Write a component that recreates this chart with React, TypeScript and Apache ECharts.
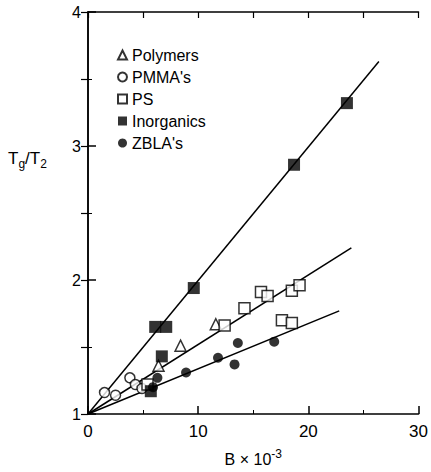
import React, { useEffect, useRef } from "react";
import * as echarts from "echarts";

const xTicks = [0, 10, 20, 30];
const yTicks = [1, 2, 3, 4];

const polymers: number[][] = [[6.4, 1.36], [8.4, 1.51], [11.6, 1.67]];
const pmma: number[][] = [[1.5, 1.16], [2.5, 1.14], [3.8, 1.27], [4.3, 1.22], [4.9, 1.19]];
const ps: number[][] = [
  [5.4, 1.22], [12.4, 1.66], [14.2, 1.79], [15.7, 1.91], [16.3, 1.88],
  [18.5, 1.92], [19.2, 1.96], [17.6, 1.7], [18.5, 1.68],
];
const inorganics: number[][] = [
  [6.1, 1.65], [7.1, 1.65], [6.7, 1.43], [9.6, 1.94], [18.7, 2.86], [23.5, 3.32], [5.7, 1.17],
];
const zbla: number[][] = [
  [5.9, 1.2], [6.3, 1.27], [8.9, 1.31], [11.8, 1.42], [13.3, 1.37], [13.6, 1.53], [16.9, 1.54],
];
const lineInorganics: number[][] = [[0, 1], [26.4, 3.63]];
const linePS: number[][] = [[0, 1], [23.9, 2.24]];
const lineZBLA: number[][] = [[0, 1], [22.8, 1.77]];

const FONT = "Liberation Sans";

export default function App() {
  const ref = useRef<HTMLDivElement>(null);
  useEffect(() => {
    document.body.style.margin = "0";
    const chart = echarts.init(ref.current!, null, { renderer: "svg" });
    const axisLine = { show: true, lineStyle: { color: "#000", width: 1.5 } };
    const open = { color: "#fff", borderColor: "#000", borderWidth: 1.5 };
    const filled = { color: "#000", borderColor: "#000", borderWidth: 0 };
    const lineSeries = (d: number[][]) => ({
      type: "line",
      data: d,
      symbol: "none",
      lineStyle: { color: "#000", width: 1.5 },
      z: 1,
      silent: true,
    });
    chart.setOption({
      animation: false,
      backgroundColor: "#fff",
      textStyle: { fontFamily: FONT },
      grid: { left: 88, right: 8, top: 12, bottom: 52 },
      legend: {
        orient: "vertical",
        left: 112,
        top: 41,
        itemWidth: 9,
        itemHeight: 9,
        itemGap: 4,
        textStyle: { fontSize: 16, color: "#000", fontFamily: FONT, lineHeight: 18 },
        data: ["Polymers", "PMMA's", "PS", "Inorganics", "ZBLA's"],
      },
      graphic: [
        {
          type: "text",
          left: 8,
          top: 150,
          style: {
            text: "{t|T}{s|g}{t|/T}{s|2}",
            rich: {
              t: { fontSize: 17, fill: "#000", fontFamily: FONT },
              s: { fontSize: 12, fill: "#000", fontFamily: FONT, padding: [10, 0, 0, 0] },
            },
          },
        },
      ],
      xAxis: [
        {
          type: "value",
          min: 0,
          max: 30,
          interval: 10,
          axisLine,
          axisTick: { show: true, inside: true, length: 8, lineStyle: { color: "#000", width: 1.5 } },
          minorTick: { show: true, splitNumber: 2, length: 4, lineStyle: { color: "#000", width: 1 } },
          axisLabel: {
            fontSize: 17,
            color: "#000",
            margin: 9,
            customValues: xTicks,
          },
          splitLine: { show: false },
          name: "{b|B × 10}{s|-3}",
          nameLocation: "middle",
          nameGap: 34,
          nameTextStyle: {
            rich: {
              b: { fontSize: 16, color: "#000", fontFamily: FONT },
              s: { fontSize: 12, color: "#000", fontFamily: FONT, padding: [0, 0, 10, 0] },
            },
          },
        },
        {
          type: "value",
          position: "top",
          min: 0,
          max: 30,
          interval: 5,
          axisLine,
          axisTick: { show: true, inside: true, length: 6, lineStyle: { color: "#000", width: 1.2 } },
          axisLabel: { show: false },
          splitLine: { show: false },
        },
      ],
      yAxis: [
        {
          type: "value",
          min: 1,
          max: 4,
          interval: 1,
          axisLine,
          axisTick: { show: true, inside: true, length: 8, lineStyle: { color: "#000", width: 1.5 } },
          minorTick: { show: true, splitNumber: 2, length: 4, lineStyle: { color: "#000", width: 1 } },
          axisLabel: { fontSize: 16, color: "#000", margin: 7, customValues: yTicks },
          splitLine: { show: false },
        },
        {
          type: "value",
          position: "right",
          min: 1,
          max: 4,
          interval: 0.5,
          axisLine,
          axisTick: { show: true, inside: true, length: 7, lineStyle: { color: "#000", width: 1.2 } },
          axisLabel: { show: false },
          splitLine: { show: false },
        },
      ],
      series: [
        lineSeries(lineInorganics),
        lineSeries(linePS),
        lineSeries(lineZBLA),
        { name: "Polymers", type: "scatter", data: polymers, symbol: "triangle", symbolSize: 11, itemStyle: open, z: 3 },
        { name: "PMMA's", type: "scatter", data: pmma, symbol: "circle", symbolSize: 10, itemStyle: open, z: 3 },
        { name: "PS", type: "scatter", data: ps, symbol: "rect", symbolSize: 11, itemStyle: open, z: 3 },
        { name: "Inorganics", type: "scatter", data: inorganics, symbol: "rect", symbolSize: 12, itemStyle: filled, z: 4 },
        { name: "ZBLA's", type: "scatter", data: zbla, symbol: "circle", symbolSize: 10, itemStyle: filled, z: 4 },
      ],
    });
    return () => chart.dispose();
  }, []);
  return <div ref={ref} style={{ width: 431, height: 472 }} />;
}
